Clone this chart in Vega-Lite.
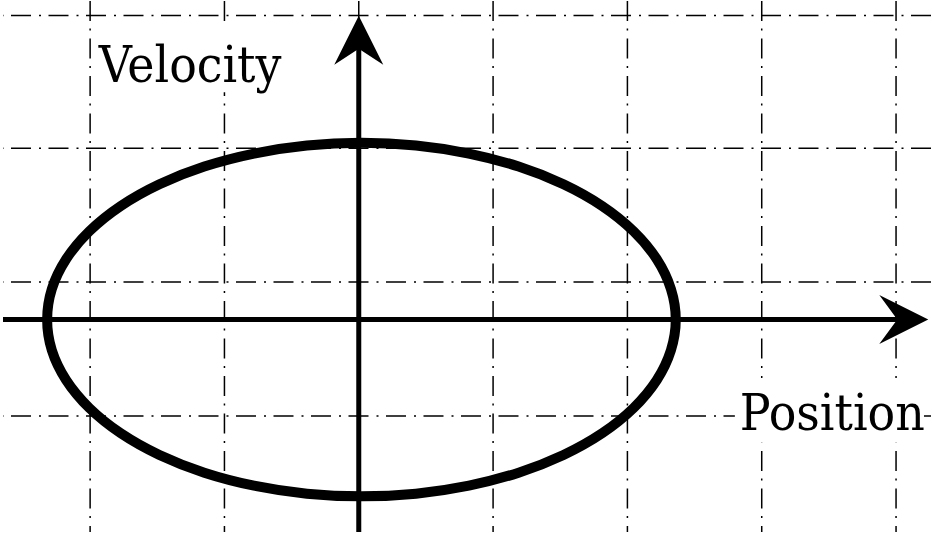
{
  "$schema": "https://vega.github.io/schema/vega-lite/v6.json",
  "width": 932,
  "height": 535,
  "autosize": {"type": "fit", "contains": "padding"},
  "padding": 0,
  "background": "white",
  "config": {"view": {"stroke": null}},
  "layer": [
    {
      "data": {"values": [{"gx": -2}, {"gx": -1}, {"gx": 0}, {"gx": 1}, {"gx": 2}, {"gx": 3}, {"gx": 4}]},
      "mark": {"type": "rule", "color": "black", "strokeWidth": 1.5, "strokeDash": [20, 7.5, 2, 8]},
      "encoding": {
        "x": {"field": "gx", "type": "quantitative", "axis": null, "scale": {"domain": [-2.6486, 4.2602], "nice": false, "zero": false}}
      }
    },
    {
      "data": {"values": [{"gy": -0.72}, {"gy": 0.28}, {"gy": 1.28}, {"gy": 2.272}]},
      "mark": {"type": "rule", "color": "black", "strokeWidth": 1.5, "strokeDash": [20, 7.5, 2, 8]},
      "encoding": {
        "y": {"field": "gy", "type": "quantitative", "axis": null, "scale": {"domain": [-1.5864, 2.3795], "nice": false, "zero": false}}
      }
    },
    {
      "data": {"values": [
        {"x1": -1.967, "x2": -0.499, "y1": 1.698, "y2": 2.231},
        {"x1": 2.80, "x2": 4.208, "y1": -0.919, "y2": -0.437}
      ]},
      "mark": {"type": "rect", "fill": "white"},
      "encoding": {
        "x": {"field": "x1", "type": "quantitative", "axis": null, "scale": {"domain": [-2.6486, 4.2602], "nice": false, "zero": false}},
        "x2": {"field": "x2"},
        "y": {"field": "y1", "type": "quantitative", "axis": null, "scale": {"domain": [-1.5864, 2.3795], "nice": false, "zero": false}},
        "y2": {"field": "y2"}
      }
    },
    {
      "data": {"values": [
        {"i": 0, "position": 2.36, "velocity": 0},
        {"i": 1, "position": 2.324, "velocity": 0.229},
        {"i": 2, "position": 2.219, "velocity": 0.451},
        {"i": 3, "position": 2.046, "velocity": 0.66},
        {"i": 4, "position": 1.813, "velocity": 0.848},
        {"i": 5, "position": 1.524, "velocity": 1.011},
        {"i": 6, "position": 1.19, "velocity": 1.143},
        {"i": 7, "position": 0.82, "velocity": 1.24},
        {"i": 8, "position": 0.426, "velocity": 1.3},
        {"i": 9, "position": 0.02, "velocity": 1.32},
        {"i": 10, "position": -0.386, "velocity": 1.3},
        {"i": 11, "position": -0.78, "velocity": 1.24},
        {"i": 12, "position": -1.15, "velocity": 1.143},
        {"i": 13, "position": -1.484, "velocity": 1.011},
        {"i": 14, "position": -1.773, "velocity": 0.848},
        {"i": 15, "position": -2.006, "velocity": 0.66},
        {"i": 16, "position": -2.179, "velocity": 0.451},
        {"i": 17, "position": -2.285, "velocity": 0.229},
        {"i": 18, "position": -2.32, "velocity": 0},
        {"i": 19, "position": -2.285, "velocity": -0.229},
        {"i": 20, "position": -2.179, "velocity": -0.451},
        {"i": 21, "position": -2.006, "velocity": -0.66},
        {"i": 22, "position": -1.773, "velocity": -0.848},
        {"i": 23, "position": -1.484, "velocity": -1.011},
        {"i": 24, "position": -1.15, "velocity": -1.143},
        {"i": 25, "position": -0.78, "velocity": -1.24},
        {"i": 26, "position": -0.386, "velocity": -1.3},
        {"i": 27, "position": 0.02, "velocity": -1.32},
        {"i": 28, "position": 0.426, "velocity": -1.3},
        {"i": 29, "position": 0.82, "velocity": -1.24},
        {"i": 30, "position": 1.19, "velocity": -1.143},
        {"i": 31, "position": 1.524, "velocity": -1.011},
        {"i": 32, "position": 1.813, "velocity": -0.848},
        {"i": 33, "position": 2.046, "velocity": -0.66},
        {"i": 34, "position": 2.219, "velocity": -0.451},
        {"i": 35, "position": 2.324, "velocity": -0.229}
      ]},
      "mark": {"type": "line", "color": "black", "strokeWidth": 10, "interpolate": "cardinal-closed"},
      "encoding": {
        "x": {"field": "position", "type": "quantitative", "axis": null, "scale": {"domain": [-2.6486, 4.2602], "nice": false, "zero": false}},
        "y": {"field": "velocity", "type": "quantitative", "axis": null, "scale": {"domain": [-1.5864, 2.3795], "nice": false, "zero": false}},
        "order": {"field": "i", "type": "quantitative"}
      }
    },
    {
      "data": {"values": [
        {"x1": -2.6486, "x2": 4.1, "y1": 0, "y2": 0},
        {"x1": 0, "x2": 0, "y1": -1.5864, "y2": 2.1}
      ]},
      "mark": {"type": "rule", "color": "black", "strokeWidth": 5},
      "encoding": {
        "x": {"field": "x1", "type": "quantitative", "axis": null, "scale": {"domain": [-2.6486, 4.2602], "nice": false, "zero": false}},
        "x2": {"field": "x2"},
        "y": {"field": "y1", "type": "quantitative", "axis": null, "scale": {"domain": [-1.5864, 2.3795], "nice": false, "zero": false}},
        "y2": {"field": "y2"}
      }
    },
    {
      "data": {"values": [{"x": 4.0575, "y": 0}]},
      "mark": {"type": "point", "filled": true, "color": "black", "opacity": 1, "strokeWidth": 0, "size": 2401, "shape": "M1,0L-1,-1L-0.265,0L-1,1Z"},
      "encoding": {
        "x": {"field": "x", "type": "quantitative", "axis": null, "scale": {"domain": [-2.6486, 4.2602], "nice": false, "zero": false}},
        "y": {"field": "y", "type": "quantitative", "axis": null, "scale": {"domain": [-1.5864, 2.3795], "nice": false, "zero": false}}
      }
    },
    {
      "data": {"values": [{"x": 0, "y": 2.0867}]},
      "mark": {"type": "point", "filled": true, "color": "black", "opacity": 1, "strokeWidth": 0, "size": 2401, "shape": "M0,-1L1,1L0,0.347L-1,1Z"},
      "encoding": {
        "x": {"field": "x", "type": "quantitative", "axis": null, "scale": {"domain": [-2.6486, 4.2602], "nice": false, "zero": false}},
        "y": {"field": "y", "type": "quantitative", "axis": null, "scale": {"domain": [-1.5864, 2.3795], "nice": false, "zero": false}}
      }
    },
    {
      "data": {"values": [
        {"x": -1.935, "y": 1.7717, "label": "Velocity"},
        {"x": 2.837, "y": -0.828, "label": "Position"}
      ]},
      "mark": {"type": "text", "font": "DejaVu Serif Condensed", "fontSize": 51, "color": "black", "align": "left", "baseline": "alphabetic"},
      "encoding": {
        "x": {"field": "x", "type": "quantitative", "axis": null, "scale": {"domain": [-2.6486, 4.2602], "nice": false, "zero": false}},
        "y": {"field": "y", "type": "quantitative", "axis": null, "scale": {"domain": [-1.5864, 2.3795], "nice": false, "zero": false}},
        "text": {"field": "label", "type": "nominal"}
      }
    }
  ]
}
